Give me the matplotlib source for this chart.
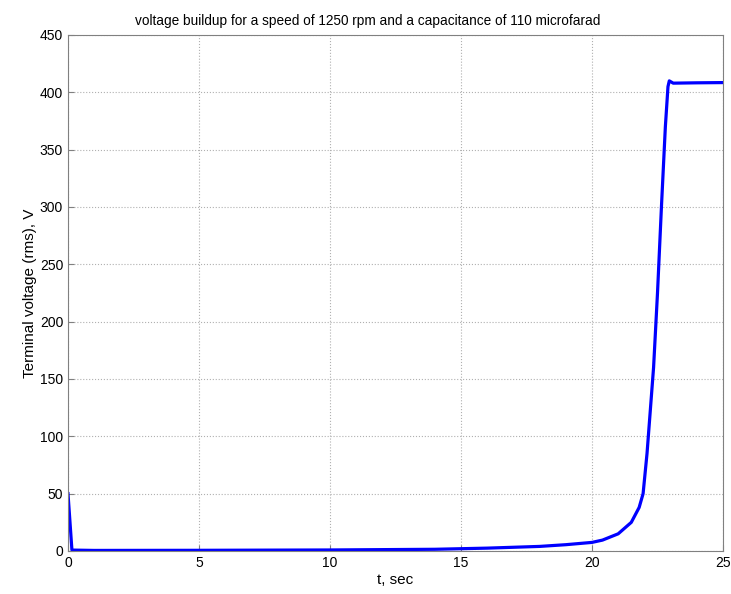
import numpy as np
import matplotlib.pyplot as plt

plt.rcParams['font.family'] = ['Liberation Sans', 'DejaVu Sans']

# terminal voltage buildup
t = [0, 0.15, 1, 5, 10, 14, 16, 18, 19, 20, 20.4, 21, 21.5, 21.8, 21.95,
     22.1, 22.2, 22.35, 22.5, 22.65, 22.8, 22.9, 22.95, 23.1, 24, 25]
v = [50, 0.8, 0.5, 0.6, 0.9, 1.5, 2.5, 4, 5.5, 7.5, 9.5, 15, 25, 38, 50,
     85, 115, 160, 225, 300, 370, 405, 410, 408, 408.3, 408.5]

xticks = [0, 5, 10, 15, 20, 25]
yticks = [0, 50, 100, 150, 200, 250, 300, 350, 400, 450]

fig = plt.figure(figsize=(7.31, 5.94), dpi=100)
ax = fig.add_axes([68/731, 1-551/594, (723-68)/731, (551-35)/594])
ax.plot(t, v, color='#0000ff', lw=2.3)
ax.set_xlim(0, 25)
ax.set_ylim(0, 450)
ax.set_xticks(xticks)
ax.set_yticks(yticks)
ax.grid(True, linestyle=':', color='#b0b0b0', lw=0.8)
for s in ax.spines.values():
    s.set_color('#808080')
ax.tick_params(direction='in', colors='#808080', labelcolor='black',
               labelsize=10, length=4)
ax.set_xlabel('t, sec', fontsize=11, labelpad=2)
ax.set_ylabel('Terminal voltage (rms), V', fontsize=11, labelpad=2)
ax.set_title('voltage buildup for a speed of 1250 rpm and a capacitance of 110 microfarad',
             fontsize=9.8, pad=7, x=0.458)

fig.savefig('out.png', dpi=100)
